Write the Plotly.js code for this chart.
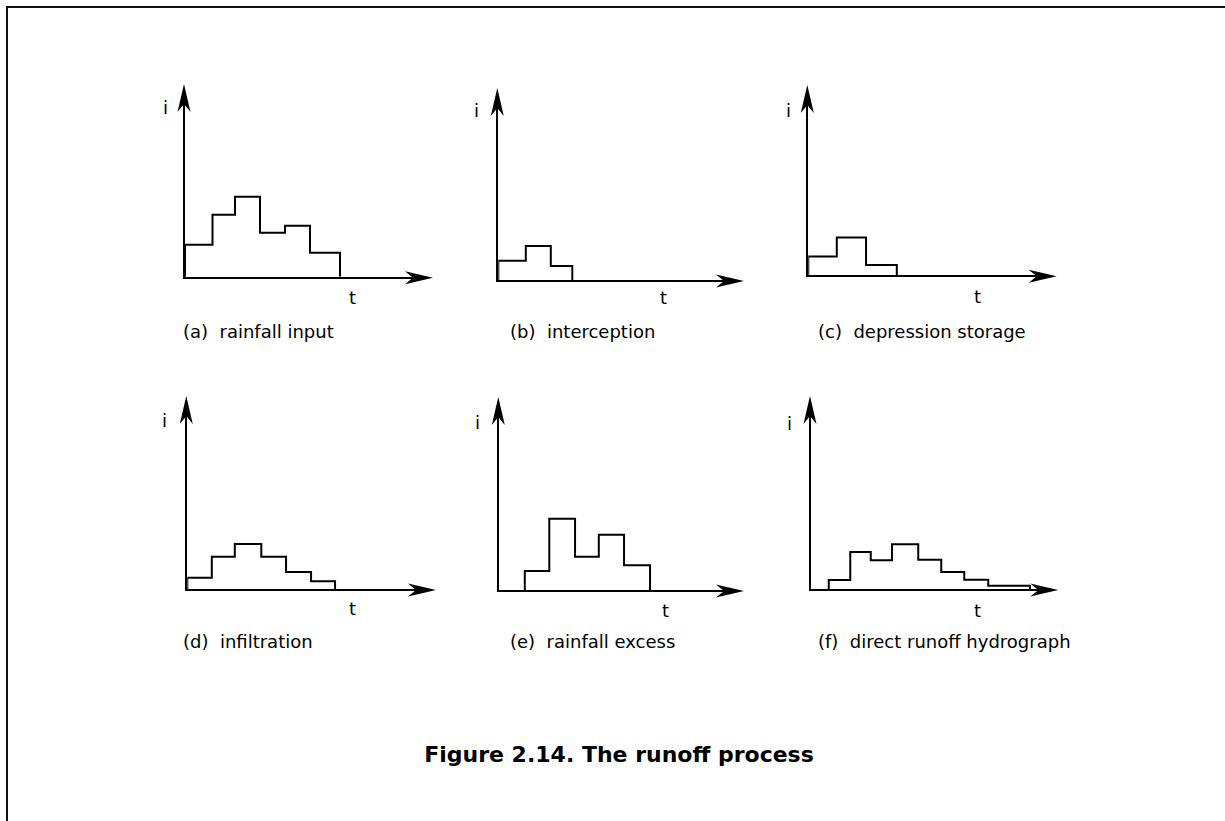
<!DOCTYPE html>
<html>
<head>
<meta charset="utf-8">
<script src="https://cdn.plot.ly/plotly-3.0.1.min.js"></script>
<style>
html,body{margin:0;padding:0;background:#fff;}
#chart{width:1225px;height:821px;}
</style>
</head>
<body>
<div id="chart"></div>
<script>
// ---------------- DATA (time in hours, intensity in mm/h) ----------------
const captions = [
  '(a)\u00a0\u00a0rainfall input',
  '(b)\u00a0\u00a0interception',
  '(c)\u00a0\u00a0depression storage',
  '(d)\u00a0\u00a0infiltration',
  '(e)\u00a0\u00a0rainfall excess',
  '(f)\u00a0\u00a0direct runoff hydrograph'
];
const yAxisLabel = 'i';
const xAxisLabel = 't';
const figureTitle = 'Figure 2.14. The runoff process';

// step boundaries (time) and intensity of each step
const breaksA = [0, 1.1, 2.0, 3.0, 4.0, 5.0, 6.2];
const intensityA = [3.2, 6.2, 8.0, 4.4, 5.1, 2.4];

const breaksB = [0, 1.1, 2.1, 2.96];
const intensityB = [1.93, 3.4, 1.4];

const breaksC = [0, 1.14, 2.31, 3.54];
const intensityC = [1.87, 3.77, 1.03];

const breaksD = [0, 0.98, 1.9, 2.96, 3.95, 4.95, 5.91];
const intensityD = [1.13, 3.23, 4.5, 3.23, 1.7, 0.77];

const breaksE = [1.02, 2.0, 3.03, 3.98, 4.99, 6.03];
const intensityE = [1.9, 7.13, 3.33, 5.53, 2.47];

const breaksF = [0.71, 1.57, 2.39, 3.24, 4.29, 5.21, 6.13, 7.09, 8.76];
const intensityF = [0.9, 3.7, 2.87, 4.47, 2.93, 1.7, 0.93, 0.33];

// ---------------- LAYOUT (pixel placement of each small panel) ----------------
const W = 1225, H = 821;
const XPX = 25;   // pixels per hour
const YPX = 10;   // pixels per mm/h

const panels = [
  {breaks: breaksA, vals: intensityA, ox: 185,   oy: 276.7, tx: 433,    ty: 84,  iLab: [165, 108],   tLab: [352, 297],   cap: [181, 331]},
  {breaks: breaksB, vals: intensityB, ox: 498.3, oy: 280,   tx: 744,    ty: 88,  iLab: [476.7, 110.7], tLab: [664, 298], cap: [508, 331]},
  {breaks: breaksC, vals: intensityC, ox: 808.3, oy: 275.3, tx: 1056.7, ty: 85,  iLab: [789, 110],   tLab: [977, 296.7], cap: [816, 331]},
  {breaks: breaksD, vals: intensityD, ox: 187.3, oy: 589,   tx: 436,    ty: 396, iLab: [164, 420.7], tLab: [352.3, 608], cap: [181, 641]},
  {breaks: breaksE, vals: intensityE, ox: 499.3, oy: 590,   tx: 744,    ty: 397, iLab: [477.3, 422.7], tLab: [665.7, 610], cap: [508, 641]},
  {breaks: breaksF, vals: intensityF, ox: 811,   oy: 589,   tx: 1058.3, ty: 396, iLab: [789.3, 424], tLab: [977.3, 610], cap: [816, 641]}
];

const PX = v => v / W;
const PY = v => 1 - v / H;

function arrowHead(tipX, tipY, dir) {
  const L = 28, N = 20, HW = 6.5;
  let pts;
  if (dir === 'right') {
    pts = [[tipX, tipY], [tipX - L, tipY - HW], [tipX - N, tipY], [tipX - L, tipY + HW]];
  } else {
    pts = [[tipX, tipY], [tipX - HW, tipY + L], [tipX, tipY + N], [tipX + HW, tipY + L]];
  }
  const path = 'M ' + pts.map(p => PX(p[0]).toFixed(5) + ',' + PY(p[1]).toFixed(5)).join(' L ') + ' Z';
  return {type: 'path', xref: 'paper', yref: 'paper', path: path,
          fillcolor: '#000', line: {width: 0, color: '#000'}, layer: 'above'};
}

const labelFont = {family: 'DejaVu Sans, Arial, sans-serif', size: 18, color: '#000'};

const data = [];
const shapes = [];
const annotations = [];
const layout = {
  width: W, height: H,
  margin: {l: 0, r: 0, t: 0, b: 0, pad: 0},
  paper_bgcolor: '#ffffff',
  plot_bgcolor: 'rgba(0,0,0,0)',
  showlegend: false,
  hovermode: false,
  title: {
    text: '<b>' + figureTitle + '</b>',
    x: 619 / W, xanchor: 'center',
    y: 1 - 754 / H, yanchor: 'middle',
    xref: 'paper', yref: 'container',
    font: {family: 'DejaVu Sans, Arial, sans-serif', size: 22, color: '#000'}
  }
};

panels.forEach((p, k) => {
  const n = k === 0 ? '' : String(k + 1);
  const xEnd = p.tx - 12;
  const yEnd = p.ty + 12;
  const common = {showline: true, linewidth: 2, linecolor: '#000', showgrid: false,
                  zeroline: false, showticklabels: false, ticks: '', fixedrange: true};
  layout['xaxis' + n] = Object.assign({}, common, {
    domain: [PX(p.ox), PX(xEnd)], range: [0, (xEnd - p.ox) / XPX], anchor: 'y' + n
  });
  layout['yaxis' + n] = Object.assign({}, common, {
    domain: [PY(p.oy), PY(yEnd)], range: [0, (p.oy - yEnd) / YPX], anchor: 'x' + n
  });
  data.push({
    type: 'scatter', mode: 'lines',
    x: [p.breaks[0]].concat(p.breaks),
    y: [0].concat(p.vals, [0]),
    line: {shape: 'hv', color: '#000', width: 2},
    xaxis: 'x' + n, yaxis: 'y' + n,
    cliponaxis: false, hoverinfo: 'skip'
  });
  shapes.push(arrowHead(p.tx, p.oy + 1, 'right'));
  shapes.push(arrowHead(p.ox - 1, p.ty, 'up'));

  annotations.push({xref: 'paper', yref: 'paper', x: PX(p.iLab[0]), y: PY(p.iLab[1]),
    text: yAxisLabel, showarrow: false, xanchor: 'center', yanchor: 'middle', font: labelFont});
  annotations.push({xref: 'paper', yref: 'paper', x: PX(p.tLab[0]), y: PY(p.tLab[1]),
    text: xAxisLabel, showarrow: false, xanchor: 'center', yanchor: 'middle', font: labelFont});
  annotations.push({xref: 'paper', yref: 'paper', x: PX(p.cap[0]), y: PY(p.cap[1]),
    text: captions[k], showarrow: false, xanchor: 'left', yanchor: 'middle', font: labelFont});
});

// outer frame (left and top border of the figure box)
shapes.push({
  type: 'path', xref: 'paper', yref: 'paper',
  path: 'M ' + PX(7) + ',-0.02 L ' + PX(7) + ',' + PY(7) + ' L 1.02,' + PY(7),
  line: {color: '#111', width: 2}, fillcolor: 'rgba(0,0,0,0)'
});

layout.shapes = shapes;
layout.annotations = annotations;

Plotly.newPlot('chart', data, layout, {staticPlot: true, displayModeBar: false});
</script>
</body>
</html>
